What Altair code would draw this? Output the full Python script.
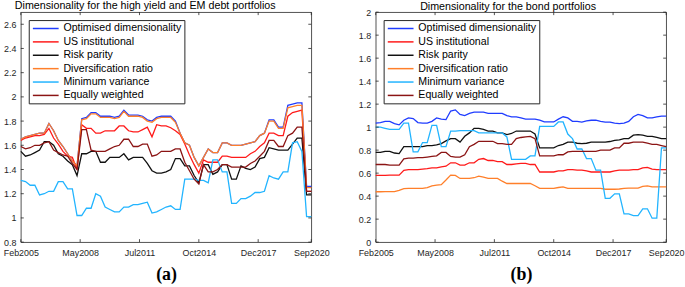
import altair as alt
import pandas as pd

# ---------------- data ----------------
months = [3 * k for k in range(63)]  # months since Feb2005 (quarterly samples)

series_names = [
    "Optimised dimensionality",
    "US institutional",
    "Risk parity",
    "Diversification ratio",
    "Minimum variance",
    "Equally weighted",
]
series_colors = ["#1f3cff", "#ff1a1a", "#111111", "#ff7f2a", "#22b4ff", "#8b1414"]

tick_months = [0, 38, 76, 114, 152, 186]
tick_labels = ["Feb2005", "May2008", "Jul2011", "Oct2014", "Dec2017", "Sep2020"]

# ---- panel (a): high yield and EM debt portfolios ----
a_opt = [1.65, 1.67, 1.68, 1.69, 1.70, 1.70, 1.78, 1.72, 1.64, 1.59,
         1.53, 1.47, 1.43, 1.82, 1.83, 1.87, 1.87, 1.84, 1.84, 1.84,
         1.83, 1.84, 1.89, 1.85, 1.85, 1.85, 1.84, 1.81, 1.80, 1.83,
         1.84, 1.84, 1.84, 1.80, 1.70, 1.62, 1.60, 1.50, 1.43, 1.50,
         1.57, 1.54, 1.54, 1.62, 1.62, 1.60, 1.60, 1.60, 1.61, 1.62,
         1.63, 1.68, 1.70, 1.81, 1.81, 1.75, 1.75, 1.93, 1.94, 1.95,
         1.95, 1.26, 1.26]
a_us = [1.64, 1.66, 1.67, 1.68, 1.68, 1.69, 1.74, 1.66, 1.61, 1.55,
        1.51, 1.50, 1.40, 1.77, 1.74, 1.74, 1.70, 1.70, 1.72, 1.72,
        1.72, 1.76, 1.76, 1.72, 1.71, 1.71, 1.73, 1.75, 1.67, 1.77,
        1.76, 1.76, 1.745, 1.72, 1.69, 1.61, 1.52, 1.44, 1.37, 1.48,
        1.46, 1.46, 1.46, 1.51, 1.51, 1.50, 1.50, 1.50, 1.50, 1.53,
        1.55, 1.59, 1.62, 1.70, 1.70, 1.68, 1.68, 1.84, 1.87, 1.88,
        1.89, 1.22, 1.22]
a_rp = [1.55, 1.51, 1.52, 1.54, 1.56, 1.63, 1.63, 1.60, 1.53, 1.51,
        1.47, 1.44, 1.35, 1.53, 1.53, 1.55, 1.55, 1.46, 1.46, 1.50,
        1.50, 1.50, 1.53, 1.48, 1.50, 1.50, 1.50, 1.45, 1.39, 1.37,
        1.37, 1.38, 1.40, 1.49, 1.49, 1.43, 1.43, 1.35, 1.29, 1.44,
        1.44, 1.36, 1.38, 1.44, 1.44, 1.32, 1.32, 1.43, 1.41, 1.40,
        1.42, 1.49, 1.50, 1.58, 1.57, 1.56, 1.56, 1.56, 1.61, 1.66,
        1.66, 1.19, 1.19]
a_div = [1.65, 1.67, 1.68, 1.69, 1.70, 1.70, 1.78, 1.72, 1.64, 1.59,
         1.53, 1.47, 1.43, 1.81, 1.82, 1.86, 1.86, 1.83, 1.83, 1.83,
         1.82, 1.83, 1.88, 1.84, 1.84, 1.84, 1.83, 1.80, 1.79, 1.82,
         1.83, 1.83, 1.83, 1.79, 1.70, 1.62, 1.60, 1.50, 1.43, 1.50,
         1.57, 1.54, 1.54, 1.62, 1.62, 1.60, 1.60, 1.60, 1.61, 1.62,
         1.63, 1.68, 1.70, 1.80, 1.80, 1.74, 1.74, 1.91, 1.92, 1.93,
         1.93, 1.25, 1.25]
a_mv = [1.31, 1.30, 1.27, 1.27, 1.19, 1.20, 1.22, 1.22, 1.30, 1.30,
        1.24, 1.24, 1.02, 1.02, 1.08, 1.08, 1.20, 1.18, 1.09, 1.07,
        1.05, 1.05, 1.09, 1.09, 1.11, 1.11, 1.12, 1.13, 1.04, 1.05,
        1.07, 1.09, 1.10, 1.07, 1.07, 1.32, 1.32, 1.32, 1.31, 1.31,
        1.29, 1.48, 1.48, 1.38, 1.38, 1.12, 1.12, 1.16, 1.16, 1.18,
        1.21, 1.21, 1.22, 1.35, 1.33, 1.32, 1.38, 1.38, 1.62, 1.63,
        1.55, 1.01, 1.01]
a_ew = [1.59, 1.57, 1.58, 1.60, 1.60, 1.62, 1.63, 1.56, 1.54, 1.52,
        1.51, 1.45, 1.40, 1.73, 1.73, 1.56, 1.55, 1.55, 1.55, 1.57,
        1.59, 1.60, 1.65, 1.65, 1.59, 1.59, 1.61, 1.61, 1.51, 1.52,
        1.55, 1.55, 1.55, 1.57, 1.57, 1.46, 1.39, 1.32, 1.28, 1.44,
        1.38, 1.38, 1.40, 1.44, 1.44, 1.42, 1.42, 1.42, 1.42, 1.45,
        1.47, 1.51, 1.55, 1.64, 1.64, 1.59, 1.59, 1.68, 1.70, 1.75,
        1.75, 1.22, 1.22]

# ---- panel (b): bond portfolios ----
b_opt = [1.035, 1.04, 1.05, 1.05, 1.03, 1.02, 1.06, 1.08, 1.075, 1.04,
         1.035, 1.035, 1.05, 1.08, 1.07, 1.065, 1.14, 1.15, 1.11, 1.10,
         1.12, 1.13, 1.13, 1.13, 1.12, 1.12, 1.12, 1.12, 1.10, 1.09,
         1.09, 1.08, 1.07, 1.07, 1.07, 1.06, 1.045, 1.045, 1.045, 1.07,
         1.09, 1.08, 1.05, 1.05, 1.044, 1.055, 1.06, 1.06, 1.05, 1.044,
         1.044, 1.035, 1.03, 1.035, 1.05, 1.09, 1.11, 1.10, 1.08, 1.08,
         1.09, 1.095, 1.096]
b_us = [0.58, 0.58, 0.58, 0.583, 0.583, 0.583, 0.625, 0.63, 0.63, 0.63,
        0.635, 0.64, 0.646, 0.646, 0.655, 0.66, 0.69, 0.69, 0.67, 0.67,
        0.69, 0.69, 0.72, 0.727, 0.71, 0.71, 0.70, 0.70, 0.675, 0.675,
        0.68, 0.684, 0.684, 0.675, 0.675, 0.61, 0.61, 0.61, 0.61, 0.62,
        0.62, 0.63, 0.63, 0.626, 0.626, 0.62, 0.61, 0.61, 0.61, 0.61,
        0.61, 0.62, 0.626, 0.626, 0.626, 0.63, 0.63, 0.645, 0.65, 0.635,
        0.63, 0.63, 0.63]
b_rp = [0.78, 0.78, 0.79, 0.79, 0.775, 0.77, 0.83, 0.83, 0.83, 0.83,
        0.83, 0.84, 0.84, 0.845, 0.857, 0.88, 0.90, 0.90, 0.87, 0.92,
        0.95, 0.99, 0.99, 0.98, 0.966, 0.966, 0.95, 0.95, 0.935, 0.945,
        0.966, 0.966, 0.966, 0.966, 0.94, 0.82, 0.82, 0.82, 0.82, 0.84,
        0.85, 0.87, 0.87, 0.86, 0.857, 0.86, 0.87, 0.87, 0.87, 0.87,
        0.875, 0.885, 0.89, 0.90, 0.90, 0.93, 0.934, 0.93, 0.92, 0.92,
        0.91, 0.90, 0.90]
b_div = [0.438, 0.438, 0.44, 0.44, 0.44, 0.45, 0.465, 0.467, 0.467, 0.467,
         0.467, 0.475, 0.49, 0.495, 0.50, 0.54, 0.583, 0.58, 0.554, 0.554,
         0.554, 0.56, 0.574, 0.565, 0.554, 0.554, 0.554, 0.53, 0.51, 0.51,
         0.51, 0.51, 0.51, 0.51, 0.49, 0.467, 0.467, 0.467, 0.467, 0.475,
         0.48, 0.467, 0.467, 0.467, 0.467, 0.467, 0.467, 0.467, 0.467, 0.46,
         0.46, 0.46, 0.462, 0.468, 0.47, 0.47, 0.47, 0.485, 0.49, 0.48,
         0.48, 0.48, 0.48]
b_mv = [1.00, 1.00, 0.99, 0.98, 0.98, 0.98, 1.035, 1.035, 0.785, 0.785,
        0.866, 0.866, 1.015, 1.015, 0.83, 0.83, 0.966, 0.966, 0.97, 0.97,
        0.97, 0.97, 0.95, 0.95, 0.95, 0.95, 0.95, 0.95, 0.915, 0.72,
        0.72, 0.72, 0.72, 0.75, 0.75, 1.006, 1.006, 1.006, 1.006, 1.045,
        1.045, 0.94, 0.90, 0.81, 0.81, 0.727, 0.727, 0.626, 0.626, 0.381,
        0.381, 0.42, 0.42, 0.245, 0.245, 0.231, 0.231, 0.29, 0.29, 0.208,
        0.208, 0.82, 0.82]
b_ew = [0.675, 0.675, 0.675, 0.67, 0.67, 0.67, 0.725, 0.73, 0.73, 0.735,
        0.735, 0.74, 0.745, 0.75, 0.78, 0.78, 0.745, 0.74, 0.74, 0.76,
        0.83, 0.85, 0.877, 0.877, 0.877, 0.877, 0.857, 0.857, 0.85, 0.85,
        0.90, 0.91, 0.915, 0.92, 0.90, 0.75, 0.75, 0.75, 0.75, 0.76,
        0.76, 0.785, 0.79, 0.79, 0.79, 0.79, 0.79, 0.79, 0.80, 0.80,
        0.80, 0.82, 0.82, 0.86, 0.86, 0.87, 0.87, 0.87, 0.86, 0.85,
        0.85, 0.84, 0.83]

a_yticks = [0.8, 1.0, 1.2, 1.4, 1.6, 1.8, 2.0, 2.2, 2.4, 2.6]
b_yticks = [0.0, 0.2, 0.4, 0.6, 0.8, 1.0, 1.2, 1.4, 1.6, 1.8, 2.0]

# ---------------- styling ----------------
W, H = 293, 232
FONT = "Liberation Sans"
AXIS_COLOR = "#262626"


def long_df(arrays):
    rows = []
    for name, vals in zip(series_names, arrays):
        for m, v in zip(months, vals):
            rows.append({"series": name, "m": m, "v": v})
    return pd.DataFrame(rows)


label_expr = " : ".join(
    f"datum.value == {m} ? '{lab}'" for m, lab in zip(tick_months, tick_labels)
) + " : ''"


def panel(arrays, ydom, yticks, title, title_dx, title_offset, caption, legend_tail):
    df = long_df(arrays)
    xenc = alt.X(
        "m:Q",
        scale=alt.Scale(domain=[0, 186], nice=False, zero=False),
        axis=alt.Axis(
            values=tick_months, labelExpr=label_expr, labelFlush=False,
            ticks=False, domain=False, grid=False,
            labelFont=FONT, labelFontSize=9, labelColor=AXIS_COLOR, labelPadding=6,
            title=caption, titleFont="Liberation Serif", titleFontSize=18,
            titleFontWeight="bold", titleColor="black", titlePadding=9,
        ),
    )
    yenc = alt.Y(
        "v:Q",
        scale=alt.Scale(domain=ydom, nice=False, zero=False),
        axis=alt.Axis(
            values=yticks, format="~g", ticks=False, domain=False, grid=False,
            title=None, labelFont=FONT, labelFontSize=9, labelColor=AXIS_COLOR,
            labelPadding=5,
        ),
    )
    lines = alt.Chart(df).mark_line(strokeWidth=1.3).encode(
        x=xenc,
        y=yenc,
        color=alt.Color(
            "series:N",
            scale=alt.Scale(domain=series_names, range=series_colors),
            legend=alt.Legend(
                title=None, orient="top-left", offset=8, padding=3,
                strokeColor=AXIS_COLOR, fillColor="white",
                labelFont=FONT, labelFontSize=10.7, labelColor="black",
                labelOffset=21, rowPadding=1.5,
                labelExpr="datum.label + '" + "\u00a0" * legend_tail + "'",
                symbolType="M-1,0H5", symbolSize=75, symbolStrokeWidth=1.5,
            ),
        ),
    )
    tx = pd.DataFrame({"m": tick_months})
    ty = pd.DataFrame({"v": yticks})
    rule = dict(color=AXIS_COLOR, strokeWidth=0.8)
    t_bottom = alt.Chart(tx).mark_rule(**rule).encode(x=xenc, y=alt.value(H), y2=alt.value(H - 3))
    t_top = alt.Chart(tx).mark_rule(**rule).encode(x=xenc, y=alt.value(0), y2=alt.value(3))
    t_left = alt.Chart(ty).mark_rule(**rule).encode(y=yenc, x=alt.value(0), x2=alt.value(3))
    t_right = alt.Chart(ty).mark_rule(**rule).encode(y=yenc, x=alt.value(W), x2=alt.value(W - 3))
    return alt.layer(lines, t_bottom, t_top, t_left, t_right).properties(
        width=W, height=H,
        title=alt.TitleParams(
            text=title, font=FONT, fontSize=10.8, fontWeight="normal",
            color="black", anchor="middle", dx=title_dx, offset=title_offset,
            frame="group",
        ),
    )


left = panel([a_opt, a_us, a_rp, a_div, a_mv, a_ew], [0.8, 2.7], a_yticks,
             "Dimensionality for the high yield and EM debt portfolios", -21, 1, "(a)", 6)
right = panel([b_opt, b_us, b_rp, b_div, b_mv, b_ew], [0, 2], b_yticks,
              "Dimensionality for the bond portfolios", -13, -3.5, "(b)", 4)

chart = (
    alt.hconcat(left, right, spacing=27)
    .resolve_scale(x="independent", y="independent", color="independent")
    .resolve_legend(color="independent")
    .properties(padding={"left": 2, "top": -2, "right": 0, "bottom": 0}, background="white")
    .configure_view(stroke=AXIS_COLOR, strokeWidth=0.8)
)

chart.save("out.html", embed_options={"renderer": "svg", "actions": False})
